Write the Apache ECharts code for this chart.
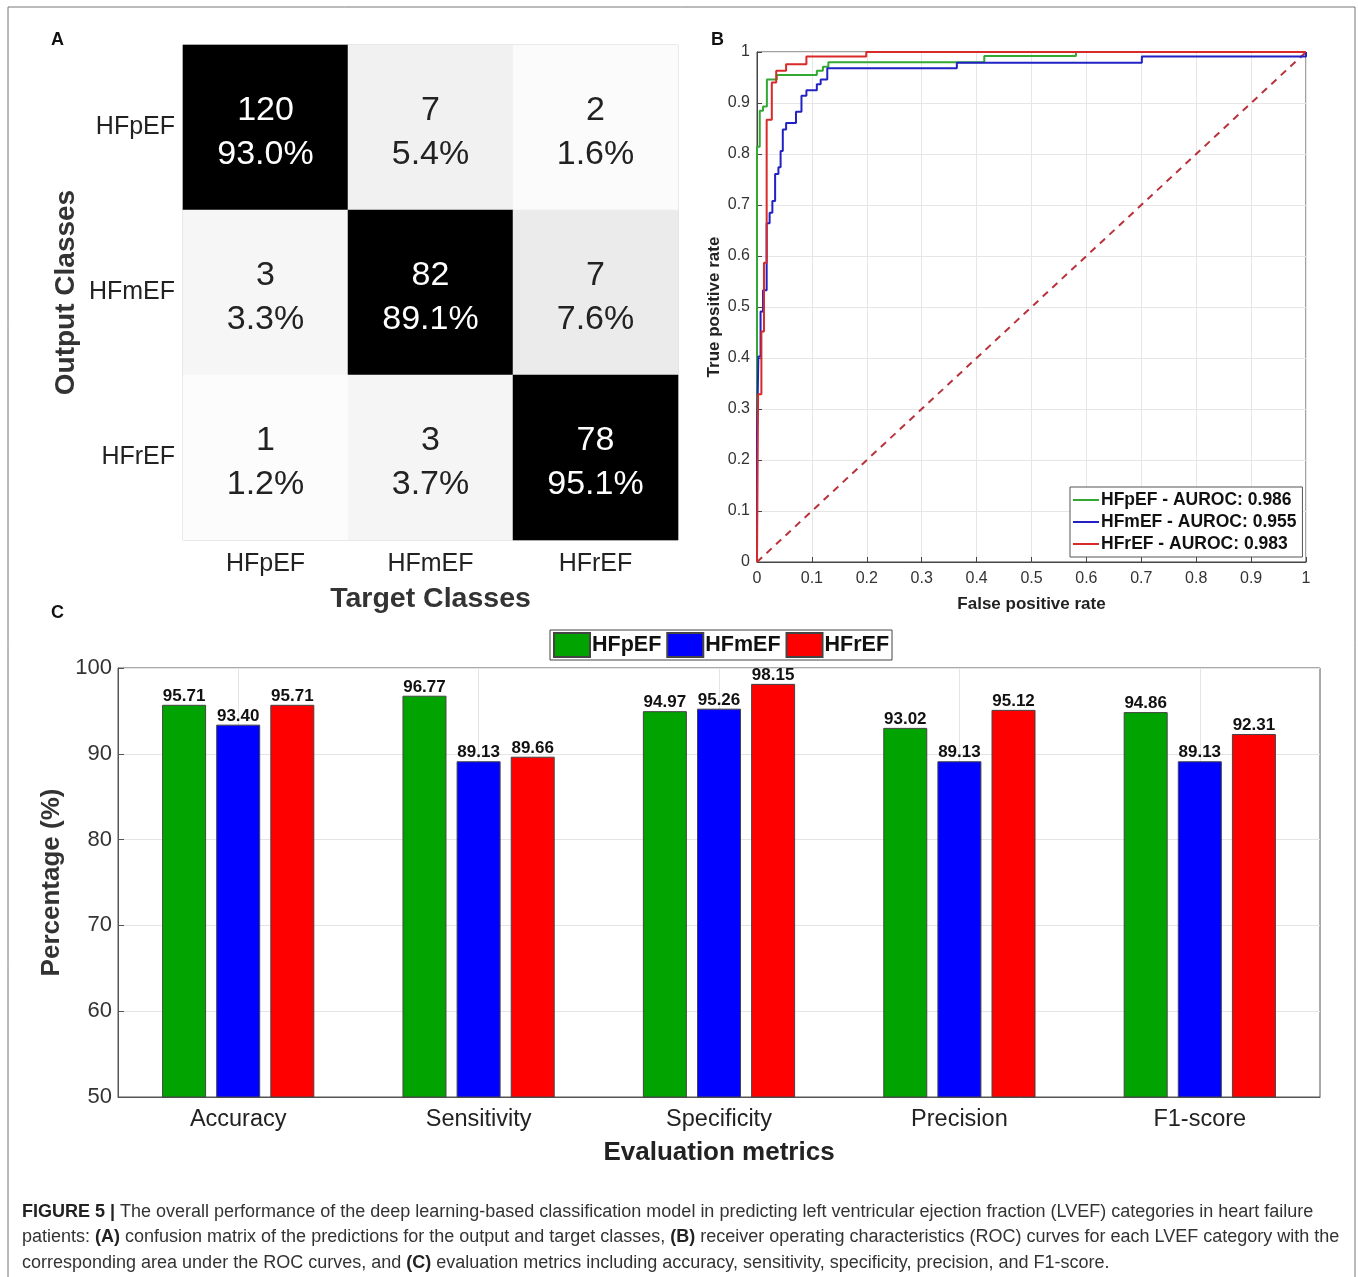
<!DOCTYPE html>
<html>
<head>
    <meta charset="utf-8">
    <script src="https://cdn.jsdelivr.net/npm/echarts@6/dist/echarts.min.js"></script>
    <style>
        html, body { margin: 0; padding: 0; background: #fff; }
    </style>
</head>
<body>
    <div id="main" style="width: 1358px; height: 1277px"></div>
    <script type="text/javascript">
        // panel A: confusion matrix (rows = output class, cols = target class)
        var classes = ['HFpEF', 'HFmEF', 'HFrEF'];
        var counts = [
            [120, 7, 2],
            [3, 82, 7],
            [1, 3, 78]
        ];
        var rowPct = [
            [93.0, 5.4, 1.6],
            [3.3, 89.1, 7.6],
            [1.2, 3.7, 95.1]
        ];

        // panel B: ROC curve vertices [fpr, tpr]
        var rocNames = ['HFpEF - AUROC: 0.986', 'HFmEF - AUROC: 0.955', 'HFrEF - AUROC: 0.983'];
        var rocHFpEF = [[0, 0], [0, 0.814], [0.005, 0.885], [0.011, 0.893], [0.018, 0.946], [0.036, 0.955],
            [0.109, 0.963], [0.12, 0.971], [0.13, 0.98], [0.414, 0.992], [0.581, 1], [1, 1]];
        var rocHFmEF = [[0, 0], [0, 0.25], [0.0025, 0.403], [0.0065, 0.491], [0.011, 0.533], [0.0176, 0.664],
            [0.023, 0.685], [0.028, 0.708], [0.033, 0.761], [0.039, 0.774], [0.043, 0.806], [0.047, 0.848],
            [0.053, 0.861], [0.071, 0.883], [0.081, 0.914], [0.09, 0.925], [0.109, 0.937], [0.116, 0.946],
            [0.128, 0.968], [0.364, 0.979], [0.701, 0.991], [1, 1]];
        var rocHFrEF = [[0, 0], [0.002, 0], [0.002, 0.329], [0.008, 0.452], [0.0127, 0.587], [0.0176, 0.867],
            [0.027, 0.94], [0.035, 0.963], [0.053, 0.976], [0.09, 0.991], [0.199, 1], [1, 1]];
        var chanceLine = [[0, 0], [1, 1]];

        // panel C: evaluation metrics (%)
        var metrics = ['Accuracy', 'Sensitivity', 'Specificity', 'Precision', 'F1-score'];
        var barHFpEF = [95.71, 96.77, 94.97, 93.02, 94.86];
        var barHFmEF = [93.40, 89.13, 95.26, 89.13, 89.13];
        var barHFrEF = [95.71, 89.66, 98.15, 95.12, 92.31];

        var FONT = "'Liberation Sans', Arial, sans-serif";
        var NARROW = "'Liberation Sans Narrow', 'Liberation Sans', Arial, sans-serif";

        window.onload = function () {
            chart();
        }

        function cellData() {
            var out = [];
            for (var r = 0; r < 3; r++) {
                for (var c = 0; c < 3; c++) {
                    var diag = r === c;
                    var g = diag ? 0 : Math.round(255 - 2.6 * rowPct[r][c]);
                    out.push({
                        value: [c, r, counts[r][c]],
                        itemStyle: { color: 'rgb(' + g + ',' + g + ',' + g + ')' },
                        label: { color: diag ? '#ffffff' : '#222222' }
                    });
                }
            }
            return out;
        }

        function chart() {
            var myChart = echarts.init(document.getElementById('main'));
            var rocColors = ['#33a833', '#2222c4', '#d92a2a'];
            var barColors = ['#00a300', '#0000ff', '#ff0000'];

            var serie = [];
            // confusion matrix
            serie.push({
                type: 'heatmap',
                xAxisIndex: 0,
                yAxisIndex: 0,
                data: cellData(),
                silent: true,
                label: {
                    show: true,
                    fontFamily: FONT,
                    fontSize: 34,
                    lineHeight: 44,
                    offset: [0, 5],
                    formatter: function (p) {
                        var c = p.data.value[0], r = p.data.value[1];
                        return counts[r][c] + '\n' + rowPct[r][c].toFixed(1) + '%';
                    }
                },
                emphasis: { disabled: true }
            });
            // ROC curves
            var rocData = [rocHFpEF, rocHFmEF, rocHFrEF];
            for (var i = 0; i < 3; i++) {
                serie.push({
                    name: rocNames[i],
                    type: 'line',
                    step: 'end',
                    xAxisIndex: 1,
                    yAxisIndex: 1,
                    data: rocData[i],
                    showSymbol: false,
                    silent: true,
                    color: rocColors[i],
                    lineStyle: { width: 2, color: rocColors[i] },
                    z: 3
                });
            }
            serie.push({
                name: 'chance',
                type: 'line',
                xAxisIndex: 1,
                yAxisIndex: 1,
                data: chanceLine,
                showSymbol: false,
                silent: true,
                lineStyle: { width: 2, color: '#b8323c', type: [7, 6] },
                z: 2
            });
            // vertical grid lines at category centres
            serie.push({
                name: 'vgrid',
                type: 'line',
                xAxisIndex: 2,
                yAxisIndex: 2,
                data: [],
                z: 1,
                silent: true,
                markLine: {
                    z: 1,
                    symbol: 'none',
                    silent: true,
                    label: { show: false },
                    lineStyle: { color: '#e4e4e4', type: 'solid', width: 1 },
                    data: metrics.map(function (m) { return { xAxis: m }; })
                }
            });
            var barData = [barHFpEF, barHFmEF, barHFrEF];
            for (var j = 0; j < 3; j++) {
                serie.push({
                    name: classes[j],
                    type: 'bar',
                    xAxisIndex: 2,
                    yAxisIndex: 2,
                    data: barData[j],
                    barWidth: 44,
                    barGap: '23%',
                    silent: true,
                    z: 3,
                    itemStyle: { color: barColors[j], borderColor: '#444', borderWidth: 1 },
                    label: {
                        show: true,
                        position: 'top',
                        distance: 0,
                        fontFamily: NARROW,
                        fontWeight: 'bold',
                        fontSize: 17,
                        color: '#111',
                        formatter: function (p) { return p.value.toFixed(2); }
                    }
                });
            }

            var option = {
                animation: false,
                backgroundColor: '#fff',
                textStyle: { fontFamily: FONT },
                grid: [
                    { left: 183, top: 45, width: 495, height: 495, show: true, borderColor: '#c8c8c8', borderWidth: 1 },
                    { left: 757, top: 52, width: 549, height: 510, show: true, borderColor: '#444', borderWidth: 1 },
                    { left: 118, top: 668, right: 38, bottom: 180, show: true, borderColor: '#555', borderWidth: 1 }
                ],
                xAxis: [
                    {
                        gridIndex: 0, type: 'category', data: classes,
                        axisLine: { show: false }, axisTick: { show: false }, splitLine: { show: false },
                        axisLabel: { fontSize: 25, color: '#222', margin: 12 },
                        name: 'Target Classes', nameLocation: 'middle', nameGap: 45,
                        nameTextStyle: { fontSize: 28.5, fontWeight: 'bold', color: '#333' }
                    },
                    {
                        gridIndex: 1, type: 'value', min: 0, max: 1, interval: 0.1,
                        axisLine: { show: true, lineStyle: { color: '#444' } },
                        axisTick: { show: true, inside: true, length: 5, lineStyle: { color: '#444' } },
                        splitLine: { show: true, lineStyle: { color: '#e6e6e6' } },
                        axisLabel: { fontSize: 16, color: '#333', margin: 9 },
                        name: 'False positive rate', nameLocation: 'middle', nameGap: 34,
                        nameTextStyle: { fontSize: 17, fontWeight: 'bold', color: '#222' }
                    },
                    {
                        gridIndex: 2, type: 'category', data: metrics,
                        axisLine: { show: true, lineStyle: { color: '#555' } },
                        axisTick: { show: false }, splitLine: { show: false },
                        axisLabel: { fontSize: 23.5, color: '#222', margin: 11 },
                        name: 'Evaluation metrics', nameLocation: 'middle', nameGap: 43,
                        nameTextStyle: { fontSize: 26, fontWeight: 'bold', color: '#222' }
                    }
                ],
                yAxis: [
                    {
                        gridIndex: 0, type: 'category', data: classes, inverse: true,
                        axisLine: { show: false }, axisTick: { show: false }, splitLine: { show: false },
                        axisLabel: { fontSize: 25, color: '#222', margin: 8, padding: [10, 0, 0, 0] },
                        name: 'Output Classes', nameLocation: 'middle', nameGap: 103, nameRotate: 90,
                        nameTextStyle: { fontSize: 28, fontWeight: 'bold', color: '#333' }
                    },
                    {
                        gridIndex: 1, type: 'value', min: 0, max: 1, interval: 0.1,
                        axisLine: { show: true, lineStyle: { color: '#444' } },
                        axisTick: { show: true, inside: true, length: 5, lineStyle: { color: '#444' } },
                        splitLine: { show: true, lineStyle: { color: '#e6e6e6' } },
                        axisLabel: { fontSize: 16, color: '#333', margin: 7 },
                        name: 'True positive rate', nameLocation: 'middle', nameGap: 34, nameRotate: 90,
                        nameTextStyle: { fontSize: 17, fontWeight: 'bold', color: '#222' }
                    },
                    {
                        gridIndex: 2, type: 'value', min: 50, max: 100, interval: 10,
                        axisLine: { show: true, lineStyle: { color: '#555' } },
                        axisTick: { show: true, inside: true, length: 6, lineStyle: { color: '#555' } },
                        splitLine: { show: true, lineStyle: { color: '#e4e4e4' } },
                        axisLabel: { fontSize: 22, color: '#333', margin: 6 },
                        name: 'Percentage (%)', nameLocation: 'middle', nameGap: 49, nameRotate: 90,
                        nameTextStyle: { fontSize: 26, fontWeight: 'bold', color: '#333' }
                    }
                ],
                legend: [
                    {
                        data: rocNames,
                        orient: 'vertical',
                        left: 1070,
                        top: 487,
                        icon: 'rect',
                        itemWidth: 26,
                        itemHeight: 2,
                        itemGap: 4,
                        padding: [4, 6, 4, 3],
                        borderColor: '#555',
                        borderWidth: 1,
                        backgroundColor: '#fff',
                        selectedMode: false,
                        textStyle: { fontSize: 17.5, fontWeight: 'bold', color: '#111', padding: [0, 0, 0, -3] }
                    },
                    {
                        data: classes,
                        orient: 'horizontal',
                        left: 550,
                        top: 630,
                        icon: 'rect',
                        itemWidth: 36,
                        itemHeight: 24,
                        itemGap: 5,
                        padding: [2, 3],
                        borderColor: '#444',
                        borderWidth: 1,
                        selectedMode: false,
                        textStyle: { fontSize: 21.5, fontWeight: 'bold', fontFamily: NARROW, color: '#111', padding: [0, 0, 0, -3] }
                    }
                ],
                graphic: [
                    { type: 'rect', shape: { x: 8, y: 7, width: 1347, height: 1300 }, style: { fill: 'none', stroke: '#777', lineWidth: 1 }, silent: true },
                    { type: 'text', left: 51, top: 31, style: { text: 'A', font: 'bold 18px ' + FONT, fill: '#111' } },
                    { type: 'text', left: 711, top: 31, style: { text: 'B', font: 'bold 18px ' + FONT, fill: '#111' } },
                    { type: 'text', left: 51, top: 604, style: { text: 'C', font: 'bold 18px ' + FONT, fill: '#111' } },
                    {
                        type: 'text', left: 22, top: 1199,
                        style: {
                            text: '{b|FIGURE 5 |} The overall performance of the deep learning-based classification model in predicting left ventricular ejection fraction (LVEF) categories in heart failure\n' +
                                'patients: {b|(A)} confusion matrix of the predictions for the output and target classes, {b|(B)} receiver operating characteristics (ROC) curves for each LVEF category with the\n' +
                                'corresponding area under the ROC curves, and {b|(C)} evaluation metrics including accuracy, sensitivity, specificity, precision, and F1-score.',
                            fontFamily: FONT,
                            fontSize: 18,
                            lineHeight: 25.5,
                            fill: '#333',
                            rich: { b: { fontWeight: 'bold', fontSize: 18, fontFamily: FONT, fill: '#222' } }
                        }
                    }
                ],
                series: serie
            };
            myChart.setOption(option);
        }
    </script>
</body>
</html>
